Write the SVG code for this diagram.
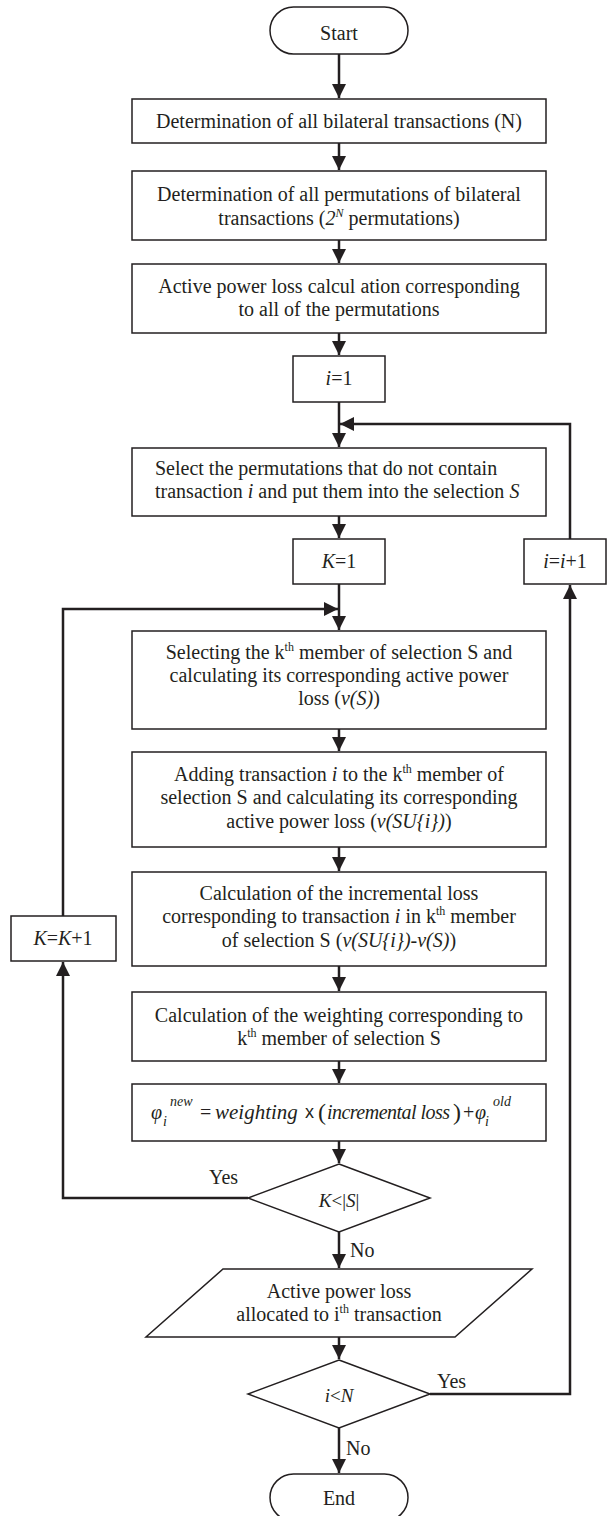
<svg xmlns="http://www.w3.org/2000/svg" width="607" height="1516" viewBox="0 0 607 1516">
<style>
.box{fill:#fff;stroke:#231f20;stroke-width:1.5}
.conn{fill:none;stroke:#231f20;stroke-width:2.5}
.t{font-family:"Liberation Serif","Times New Roman",serif;font-size:20px;fill:#231f20}
.m{text-anchor:middle}
.i{font-style:italic}
.s{font-size:12px}
.fs{font-size:14px}
</style>
<defs>
<marker id="ah" markerUnits="userSpaceOnUse" markerWidth="15" markerHeight="15" refX="14" refY="7" orient="auto">
<path d="M0,0 L14,7 L0,14 z" fill="#231f20"/>
</marker>
</defs>
<rect width="607" height="1516" fill="#fff"/>
<g id="connectors">
<line class="conn" x1="339" y1="54" x2="339" y2="98" marker-end="url(#ah)"/>
<line class="conn" x1="339" y1="143" x2="339" y2="170" marker-end="url(#ah)"/>
<line class="conn" x1="339" y1="240" x2="339" y2="263" marker-end="url(#ah)"/>
<line class="conn" x1="339" y1="333" x2="339" y2="355" marker-end="url(#ah)"/>
<line class="conn" x1="339" y1="402" x2="339" y2="447" marker-end="url(#ah)"/>
<polyline class="conn" points="570,539 570,424 340,424" marker-end="url(#ah)"/>
<line class="conn" x1="339" y1="516" x2="339" y2="538" marker-end="url(#ah)"/>
<line class="conn" x1="339" y1="584" x2="339" y2="630" marker-end="url(#ah)"/>
<polyline class="conn" points="63,916 63,609 338,609" marker-end="url(#ah)"/>
<polyline class="conn" points="248,1198 63,1198 63,962" marker-end="url(#ah)"/>
<line class="conn" x1="339" y1="729" x2="339" y2="751" marker-end="url(#ah)"/>
<line class="conn" x1="339" y1="847" x2="339" y2="871" marker-end="url(#ah)"/>
<line class="conn" x1="339" y1="966" x2="339" y2="991" marker-end="url(#ah)"/>
<line class="conn" x1="339" y1="1061" x2="339" y2="1083" marker-end="url(#ah)"/>
<line class="conn" x1="339" y1="1141" x2="339" y2="1163" marker-end="url(#ah)"/>
<line class="conn" x1="339" y1="1232" x2="339" y2="1268" marker-end="url(#ah)"/>
<line class="conn" x1="339" y1="1337" x2="339" y2="1359" marker-end="url(#ah)"/>
<line class="conn" x1="339" y1="1428" x2="339" y2="1473" marker-end="url(#ah)"/>
<polyline class="conn" points="430,1394 570,1394 570,585" marker-end="url(#ah)"/>
<text class="t" x="209" y="1184">Yes</text>
<text class="t" x="350" y="1257">No</text>
<text class="t" x="437" y="1388">Yes</text>
<text class="t" x="346" y="1455">No</text>
</g>
<g id="start">
<rect class="box" x="270" y="7" width="138" height="47" rx="23.5"/>
<text class="t m" x="339" y="40">Start</text>
</g>
<g id="n1">
<rect class="box" x="132" y="99" width="414" height="44"/>
<text class="t m" x="339" y="128">Determination of all bilateral transactions (N)</text>
</g>
<g id="n2">
<rect class="box" x="132" y="171" width="414" height="69"/>
<text class="t m" x="339" y="201">Determination of all permutations of bilateral</text>
<text class="t m" x="339" y="225">transactions (<tspan class="i">2</tspan><tspan class="i s" dy="-8">N</tspan><tspan dy="8"> permutations)</tspan></text>
</g>
<g id="n3">
<rect class="box" x="132" y="264" width="414" height="69"/>
<text class="t m" x="339" y="293">Active power loss calcul ation corresponding</text>
<text class="t m" x="339" y="316">to all of the permutations</text>
</g>
<g id="n4">
<rect class="box" x="293" y="356" width="92" height="46"/>
<text class="t m" x="339" y="385"><tspan class="i">i</tspan>=1</text>
</g>
<g id="n5">
<rect class="box" x="132" y="448" width="414" height="68"/>
<text class="t" x="155" y="475">Select the permutations that do not contain</text>
<text class="t" x="155" y="498">transaction <tspan class="i">i</tspan> and put them into the selection <tspan class="i">S</tspan></text>
</g>
<g id="n6">
<rect class="box" x="293" y="539" width="92" height="45"/>
<text class="t m" x="339" y="568"><tspan class="i">K</tspan>=1</text>
</g>
<g id="n7">
<rect class="box" x="524" y="539" width="82" height="45"/>
<text class="t m" x="565" y="568"><tspan class="i">i</tspan>=<tspan class="i">i</tspan>+1</text>
</g>
<g id="n8">
<rect class="box" x="132" y="631" width="414" height="98"/>
<text class="t m" x="339" y="659">Selecting the k<tspan class="s" dy="-8">th</tspan><tspan dy="8"> member of selection S and</tspan></text>
<text class="t m" x="339" y="682">calculating its corresponding active power</text>
<text class="t m" x="339" y="705">loss (<tspan class="i">v(S)</tspan>)</text>
</g>
<g id="n9">
<rect class="box" x="132" y="752" width="414" height="95"/>
<text class="t m" x="339" y="781">Adding transaction <tspan class="i">i</tspan> to the k<tspan class="s" dy="-8">th</tspan><tspan dy="8"> member of</tspan></text>
<text class="t m" x="339" y="804">selection S and calculating its corresponding</text>
<text class="t m" x="339" y="828">active power loss (<tspan class="i">v(SU{i})</tspan>)</text>
</g>
<g id="n10">
<rect class="box" x="11" y="916" width="105" height="45"/>
<text class="t m" x="63" y="945"><tspan class="i">K</tspan>=<tspan class="i">K</tspan>+1</text>
</g>
<g id="n11">
<rect class="box" x="132" y="872" width="414" height="94"/>
<text class="t m" x="339" y="900">Calculation of the incremental loss</text>
<text class="t m" x="339" y="923">corresponding to transaction <tspan class="i">i</tspan> in k<tspan class="s" dy="-8">th</tspan><tspan dy="8"> member</tspan></text>
<text class="t m" x="339" y="947">of selection S (<tspan class="i">v(SU{i})-v(S)</tspan>)</text>
</g>
<g id="n12">
<rect class="box" x="132" y="992" width="414" height="69"/>
<text class="t m" x="339" y="1022">Calculation of the weighting corresponding to</text>
<text class="t m" x="339" y="1045">k<tspan class="s" dy="-8">th</tspan><tspan dy="8"> member of selection S</tspan></text>
</g>
<g id="n13">
<rect class="box" x="132" y="1084" width="414" height="57"/>
<text class="t"><tspan class="i" x="151" y="1119">φ</tspan><tspan class="i fs" x="163" y="1126">i</tspan><tspan class="i fs" x="170" y="1106">new</tspan><tspan x="200" y="1119">=</tspan><tspan class="i" x="215" y="1119" style="font-size:21px">weighting</tspan><tspan x="305" y="1118" style="font-family:'Liberation Sans',Arial,sans-serif;font-size:18px">x</tspan><tspan x="318" y="1120" style="font-size:24px">(</tspan><tspan class="i" x="327" y="1119" textLength="123" lengthAdjust="spacing">incremental loss</tspan><tspan x="453" y="1120" style="font-size:24px">)</tspan><tspan x="463" y="1119">+</tspan><tspan class="i" x="475" y="1119">φ</tspan><tspan class="i fs" x="485" y="1126">i</tspan><tspan class="i fs" x="493" y="1106">old</tspan></text>
</g>
<g id="n14">
<polygon class="box" points="339,1164 430,1198 339,1232 248,1198"/>
<text class="t m" x="339" y="1207" style="font-size:19px"><tspan class="i">K</tspan>&lt;|<tspan class="i">S</tspan>|</text>
</g>
<g id="n15">
<polygon class="box" points="223,1269 532,1269 455,1337 146,1337"/>
<text class="t m" x="339" y="1298">Active power loss</text>
<text class="t m" x="339" y="1321">allocated to i<tspan class="s" dy="-8">th</tspan><tspan dy="8"> transaction</tspan></text>
</g>
<g id="n16">
<polygon class="box" points="339,1360 430,1394 339,1428 248,1394"/>
<text class="t m" x="339" y="1402" style="font-size:19px"><tspan class="i">i</tspan>&lt;<tspan class="i">N</tspan></text>
</g>
<g id="end">
<rect class="box" x="270" y="1474" width="138" height="47" rx="23.5"/>
<text class="t m" x="339" y="1505">End</text>
</g>
</svg>
